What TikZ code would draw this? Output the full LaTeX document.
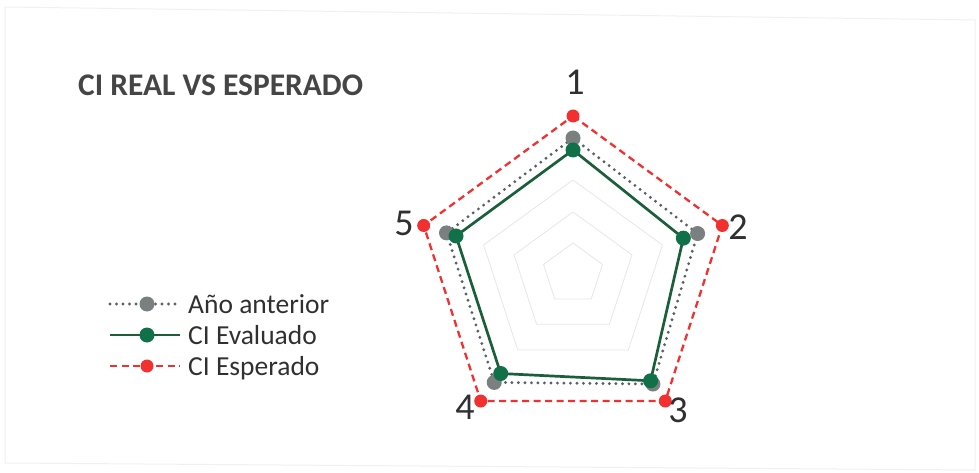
\documentclass[tikz,border=0pt]{standalone}
\usepackage{fontspec}
\setmainfont{Carlito}
\definecolor{gridgray}{HTML}{E6E6E6}
\definecolor{framegray}{HTML}{F0F0F0}
\definecolor{annegray}{HTML}{5A5F66}
\definecolor{annemark}{HTML}{7A7F80}
\definecolor{evalgreen}{HTML}{1B5E3A}
\definecolor{evalmark}{HTML}{107048}
\definecolor{esperred}{HTML}{F23030}
\definecolor{textdark}{HTML}{303030}
\tikzset{
  gridline/.style={draw=gridgray, line width=0.8pt},
  anneline/.style={draw=annegray, line width=3.2pt, dash pattern=on 0pt off 6.5pt, line cap=round},
  evalline/.style={draw=evalgreen, line width=2.7pt},
  esperline/.style={draw=esperred, line width=2.3pt, dash pattern=on 7pt off 4.5pt},
  annemk/.style={circle, fill=annemark, minimum size=15pt, inner sep=0pt},
  evalmk/.style={circle, fill=evalmark, minimum size=15pt, inner sep=0pt},
  espermk/.style={circle, fill=esperred, minimum size=13pt, inner sep=0pt},
  axlabel/.style={font=\fontsize{38}{42}\selectfont, text=textdark, inner sep=0pt},
  legtext/.style={font=\fontsize{27.5}{32}\selectfont, text=textdark, anchor=base west, inner sep=0pt},
}
\begin{document}
\begin{tikzpicture}[x=1pt,y=-1pt]
\useasboundingbox (0,0) rectangle (979,473);
% faint frame
\draw[framegray, line width=1pt] (5,7) -- (975,20) -- (975,470) -- (5,463) -- cycle;
% title
\node[font=\bfseries\fontsize{31.5}{36}\selectfont, text=textdark!90, anchor=base west, inner sep=0pt] (title) at (78,96) {CI REAL VS ESPERADO};
% grid
\foreach \r in {31,62,94}{
  \draw[gridline] ({573+\r*cos(90)},{274-\r*sin(90)})
    -- ({573+\r*cos(18)},{274-\r*sin(18)})
    -- ({573+\r*cos(-54)},{274-\r*sin(-54)})
    -- ({573+\r*cos(-126)},{274-\r*sin(-126)})
    -- ({573+\r*cos(162)},{274-\r*sin(162)}) -- cycle;
}
% data coordinates
\coordinate (e1) at ({573+158*cos(90)},{274-158*sin(90)});
\coordinate (e2) at ({573+157*cos(18)},{274-157*sin(18)});
\coordinate (e3) at ({573+157*cos(-54)},{274-157*sin(-54)});
\coordinate (e4) at ({573+157*cos(-126)},{274-157*sin(-126)});
\coordinate (e5) at ({573+157*cos(162)},{274-157*sin(162)});
\coordinate (a1) at ({573+136*cos(90)},{274-136*sin(90)});
\coordinate (a2) at ({573+131*cos(18)},{274-131*sin(18)});
\coordinate (a3) at ({573+136*cos(-54)},{274-136*sin(-54)});
\coordinate (a4) at ({573+134*cos(-126)},{274-134*sin(-126)});
\coordinate (a5) at ({573+133*cos(162)},{274-133*sin(162)});
\coordinate (g1) at ({573+124*cos(90)},{274-124*sin(90)});
\coordinate (g2) at ({573+116*cos(18)},{274-116*sin(18)});
\coordinate (g3) at ({573+132*cos(-54)},{274-132*sin(-54)});
\coordinate (g4) at ({573+123*cos(-126)},{274-123*sin(-126)});
\coordinate (g5) at ({573+123*cos(162)},{274-123*sin(162)});
% series lines
\draw[esperline] (e1) -- (e2) -- (e3) -- (e4) -- (e5) -- cycle;
\draw[anneline] (a1) -- (a2) -- (a3) -- (a4) -- (a5) -- cycle;
\draw[evalline] (g1) -- (g2) -- (g3) -- (g4) -- (g5) -- cycle;
% markers
\foreach \i in {1,...,5}{
  \node[espermk] (em\i) at (e\i) {};
  \node[annemk] (am\i) at (a\i) {};
}
\foreach \i in {1,...,5}{
  \node[evalmk] (gm\i) at (g\i) {};
}
% axis labels
\node[axlabel] (lab1) at (575,82) {1};
\node[axlabel] (lab2) at (738,227) {2};
\node[axlabel] (lab3) at (678,410) {3};
\node[axlabel] (lab4) at (465,407) {4};
\node[axlabel] (lab5) at (404,223) {5};
% legend
\coordinate (la0) at (110,304); \coordinate (la1) at (180,304);
\coordinate (lg0) at (110,335); \coordinate (lg1) at (180,335);
\coordinate (le0) at (110,366); \coordinate (le1) at (180,366);
\draw[anneline] (la0) -- (la1);
\draw[evalline] (lg0) -- (lg1);
\draw[esperline] (le0) -- (le1);
\node[annemk] (lam) at (147,304) {};
\node[evalmk] (lgm) at (147,335) {};
\node[espermk] (lem) at (147,366) {};
\node[legtext] (lta) at (188,313) {Año anterior};
\node[legtext] (ltg) at (188,344) {CI Evaluado};
\node[legtext] (lte) at (188,375) {CI Esperado};
\end{tikzpicture}
\end{document}
